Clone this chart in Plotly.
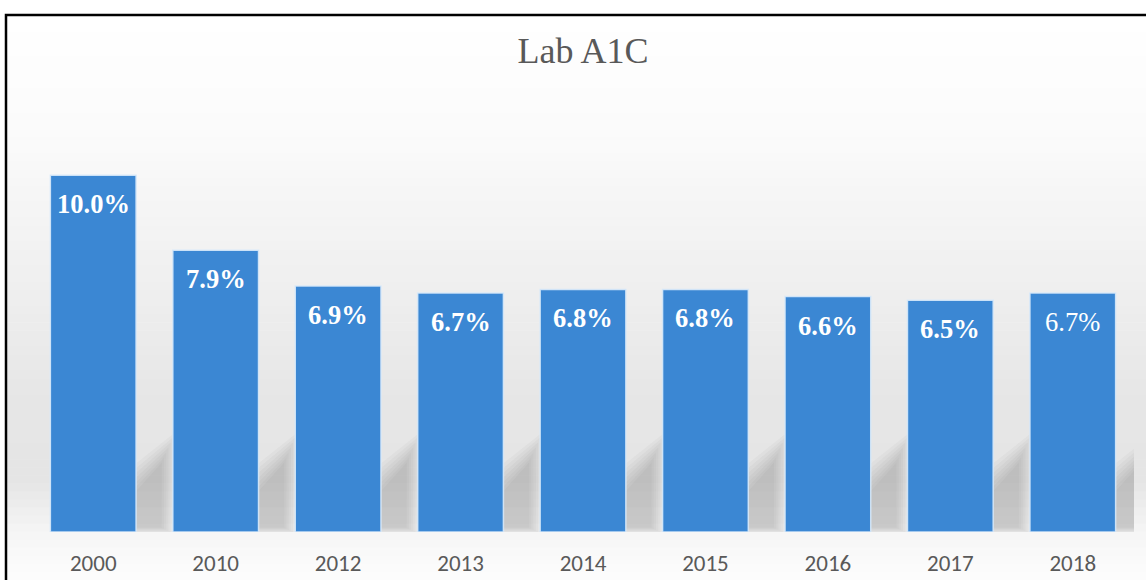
import plotly.graph_objects as go

# Lab A1C yearly averages
years = ["2000", "2010", "2012", "2013", "2014", "2015", "2016", "2017", "2018"]
a1c_values = [10.0, 7.9, 6.9, 6.7, 6.8, 6.8, 6.6, 6.5, 6.7]

# canvas / plot-area geometry (pixels)
W, H = 1146, 580
ML, MR, MT, MB = 32, 12, 104, 48
PW, PH = W - ML - MR, H - MT - MB
BAR_FRAC = 0.70


def px_to_paper_x(px):
    return (px - ML) / PW


def py_to_paper_y(py):
    return (H - MB - py) / PH


def lerp_gray(py, stops):
    for (y0, g0), (y1, g1) in zip(stops, stops[1:]):
        if y0 <= py <= y1:
            t = (py - y0) / (y1 - y0) if y1 > y0 else 0
            g = round(g0 + (g1 - g0) * t)
            return f"rgb({g},{g},{g})"
    g = stops[-1][1]
    return f"rgb({g},{g},{g})"


shapes = []

# soft vertical background gradient inside the frame
bg_stops = [(15, 255), (130, 251), (260, 241), (400, 230), (480, 229), (535, 246), (580, 253)]
n_strips = 70
top_px, bot_px = 16, 580
step = (bot_px - top_px) / n_strips
for k in range(n_strips):
    y_a = top_px + k * step
    y_b = y_a + step + 0.6
    shapes.append(dict(
        type="rect", xref="paper", yref="paper", layer="below",
        x0=px_to_paper_x(7), x1=px_to_paper_x(W + 5),
        y0=py_to_paper_y(y_b), y1=py_to_paper_y(y_a),
        fillcolor=lerp_gray(y_a + step / 2, bg_stops), line=dict(width=0),
    ))

# blurred slanted floor shadow cast by every bar (category index coordinates)
for i, _ in enumerate(a1c_values):
    for k in range(7):
        ex = 0.018 * k
        ey = 0.14 * k
        x_l, x_r = i + 0.30, i + 0.56 + ex
        y_b = max(0.12 - 0.03 * k, 0.0)
        path = (f"M {x_l},{y_b} L {x_r},{y_b} "
                f"L {x_r},{1.95 + ey} L {x_l},{0.95 + ey} Z")
        shapes.append(dict(
            type="path", xref="x", yref="y", layer="below", path=path,
            fillcolor="rgba(95,95,95,0.045)", line=dict(width=0),
        ))

# black frame on the top and left edges
shapes.append(dict(
    type="path", xref="paper", yref="paper", layer="above",
    path=(f"M {px_to_paper_x(W + 10)},{py_to_paper_y(15)} "
          f"L {px_to_paper_x(6)},{py_to_paper_y(15)} "
          f"L {px_to_paper_x(6)},{py_to_paper_y(H + 10)}"),
    line=dict(color="black", width=2.5),
))

fig = go.Figure()
fig.add_trace(go.Bar(
    x=years, y=a1c_values,
    width=BAR_FRAC,
    marker=dict(color="#3b87d3", line=dict(color="rgba(215,233,250,0.9)", width=1.5)),
    hoverinfo="x+y",
))

# value labels inside the top of each bar
label_weights = ["bold"] * 8 + ["normal"]
annotations = []
for i, (v, wt) in enumerate(zip(a1c_values, label_weights)):
    annotations.append(dict(
        x=i, y=v, xref="x", yref="y", yshift=-29,
        text=f"{v:.1f}%", showarrow=False, yanchor="middle",
        font=dict(family="Liberation Serif, Times New Roman, serif", size=26.5,
                  color="white", weight=wt),
    ))

fig.update_layout(
    width=W, height=H,
    margin=dict(l=ML, r=MR, t=MT, b=MB, autoexpand=False),
    paper_bgcolor="white",
    plot_bgcolor="rgba(0,0,0,0)",
    title=dict(text="Lab A1C", x=0.5, xref="paper", xanchor="center",
               y=1 - 50 / H, yanchor="middle",
               font=dict(family="Liberation Serif, Times New Roman, serif", size=36, color="#595959")),
    xaxis=dict(type="category", showgrid=False, zeroline=False, showline=False,
               automargin=False,
               ticks="outside", ticklen=10, tickcolor="rgba(0,0,0,0)",
               tickfont=dict(family="Carlito, Calibri, Liberation Sans, sans-serif", size=23, color="#595959"),
               range=[-0.5, len(years) - 0.5]),
    yaxis=dict(visible=False, range=[0, 12]),
    shapes=shapes,
    annotations=annotations,
    showlegend=False,
)

fig.write_html("out.html")
